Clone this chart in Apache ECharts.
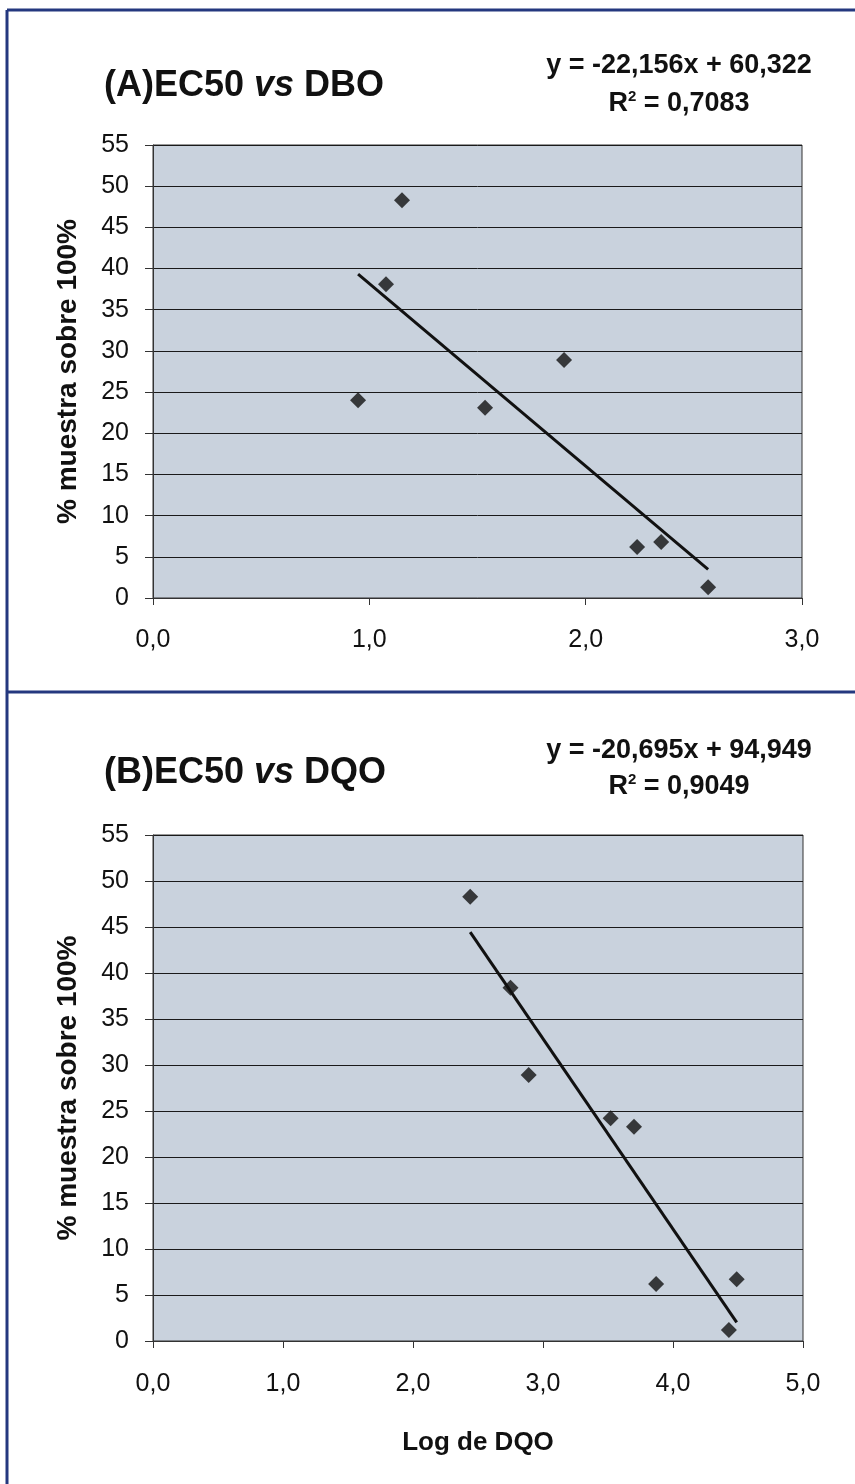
<!DOCTYPE html>
<html>
<head>
<meta charset="utf-8">
<script src="https://cdn.jsdelivr.net/npm/echarts@6/dist/echarts.min.js"></script>
<style>
html,body{margin:0;padding:0;background:#fff;}
#c{width:855px;height:1484px;}
</style>
</head>
<body>
<div id="c"></div>
<script>
// ---- Data ----
var ec50A = [48.3, 38.1, 28.9, 24.0, 23.1, 6.2, 6.8, 1.3];
var logDBO = [1.151, 1.077, 1.900, 0.948, 1.535, 2.238, 2.349, 2.566];
var ec50B = [48.3, 38.4, 28.9, 24.2, 23.3, 6.2, 6.7, 1.2];
var logDQO = [2.44, 2.75, 2.89, 3.52, 3.70, 3.87, 4.49, 4.43];
var fitA = [-22.156, 60.322];
var fitB = [-20.695, 94.949];
var r2A = '0,7083';
var r2B = '0,9049';
var yTicks = [0, 55, 5];
var xRangeA = [0, 3];
var xRangeB = [0, 5];

var FONT = '"Liberation Sans", Arial, sans-serif';

function pts(xs, ys){ return xs.map(function(x,i){ return [x, ys[i]]; }); }
function trend(xs, fit){
  var mn = Math.min.apply(null, xs), mx = Math.max.apply(null, xs);
  return [[mn, fit[0]*mn + fit[1]], [mx, fit[0]*mx + fit[1]]];
}
function fmtX(v){ return v.toFixed(1).replace('.', ','); }

var axisLineStyle = {color: '#333', width: 1};
function xAxis(idx, range, margin, name){
  return {
    type: 'value', gridIndex: idx, min: range[0], max: range[1], interval: 1,
    axisLine: {show: true, onZero: false, lineStyle: axisLineStyle},
    axisTick: {show: true, length: 7, inside: false, lineStyle: {color: '#333'}},
    splitLine: {show: false},
    axisLabel: {formatter: fmtX, fontFamily: FONT, fontSize: 25, color: '#111', margin: margin},
    name: name || '', nameLocation: 'middle', nameGap: 89,
    nameTextStyle: {fontFamily: FONT, fontSize: 26, fontWeight: 'bold', color: '#111'}
  };
}
function yAxis(idx){
  return {
    type: 'value', gridIndex: idx, min: yTicks[0], max: yTicks[1], interval: yTicks[2],
    axisLine: {show: true, lineStyle: axisLineStyle},
    axisTick: {show: true, length: 8, inside: false, lineStyle: {color: '#333'}},
    splitLine: {show: true, lineStyle: {color: '#1a1a1a', width: 1}},
    axisLabel: {fontFamily: FONT, fontSize: 25, color: '#111', margin: 24},
    name: '% muestra sobre 100%', nameLocation: 'middle', nameGap: 71, nameRotate: 90,
    nameTextStyle: {fontFamily: FONT, fontSize: 28, fontWeight: 'bold', color: '#111'}
  };
}

var titleRich = {
  i: {fontFamily: FONT, fontSize: 36, fontWeight: 'bold', fontStyle: 'italic', color: '#111'}
};
var eqRich = {
  sup: {fontFamily: FONT, fontSize: 15, fontWeight: 'bold', color: '#111', verticalAlign: 'top', padding: [0,0,14,0]}
};
function eqStr(fit){
  return 'y = ' + fit[0].toFixed(3).replace('.', ',') + 'x + ' + fit[1].toFixed(3).replace('.', ',');
}
var titleStyle = {fontFamily: FONT, fontSize: 36, fontWeight: 'bold', color: '#111', rich: titleRich};
var eqStyle = {fontFamily: FONT, fontSize: 27, fontWeight: 'bold', color: '#111', rich: eqRich};

var chart = echarts.init(document.getElementById('c'), null, {renderer: 'canvas'});
chart.setOption({
  animation: false,
  backgroundColor: '#ffffff',
  title: [
    {text: '(A)EC50 {i|vs} DBO', left: 99, top: 63, textStyle: titleStyle},
    {text: eqStr(fitA), left: 674, top: 47, textAlign: 'center', textStyle: eqStyle},
    {text: 'R{sup|2} = ' + r2A, left: 674, top: 84, textAlign: 'center', textStyle: eqStyle},
    {text: '(B)EC50 {i|vs} DQO', left: 99, top: 750, textStyle: titleStyle},
    {text: eqStr(fitB), left: 674, top: 732, textAlign: 'center', textStyle: eqStyle},
    {text: 'R{sup|2} = ' + r2B, left: 674, top: 767, textAlign: 'center', textStyle: eqStyle}
  ],
  grid: [
    {left: 153, top: 145, width: 649, height: 453, show: true, backgroundColor: '#c9d2dd', borderColor: '#333', borderWidth: 1},
    {left: 153, top: 835, width: 650, height: 506, show: true, backgroundColor: '#c9d2dd', borderColor: '#333', borderWidth: 1}
  ],
  xAxis: [xAxis(0, xRangeA, 30), xAxis(1, xRangeB, 31, 'Log de DQO')],
  yAxis: [yAxis(0), yAxis(1)],
  series: [
    {type: 'line', xAxisIndex: 0, yAxisIndex: 0, data: trend(logDBO, fitA), showSymbol: false, symbol: 'none',
      lineStyle: {color: '#111', width: 3}, z: 3},
    {type: 'scatter', xAxisIndex: 0, yAxisIndex: 0, data: pts(logDBO, ec50A), symbol: 'diamond', symbolSize: 16,
      itemStyle: {color: '#111'}, z: 4},
    {type: 'line', xAxisIndex: 1, yAxisIndex: 1, data: trend(logDQO, fitB), showSymbol: false, symbol: 'none',
      lineStyle: {color: '#111', width: 3}, z: 3},
    {type: 'scatter', xAxisIndex: 1, yAxisIndex: 1, data: pts(logDQO, ec50B), symbol: 'diamond', symbolSize: 16,
      itemStyle: {color: '#111'}, z: 4}
  ],
  graphic: [
    {type: 'line', shape: {x1: 7, y1: 10, x2: 7, y2: 1484}, style: {stroke: '#24387f', lineWidth: 3}},
    {type: 'line', shape: {x1: 7, y1: 10, x2: 855, y2: 10}, style: {stroke: '#24387f', lineWidth: 3}},
    {type: 'line', shape: {x1: 7, y1: 692, x2: 855, y2: 692}, style: {stroke: '#24387f', lineWidth: 3}}
  ]
});
</script>
</body>
</html>
